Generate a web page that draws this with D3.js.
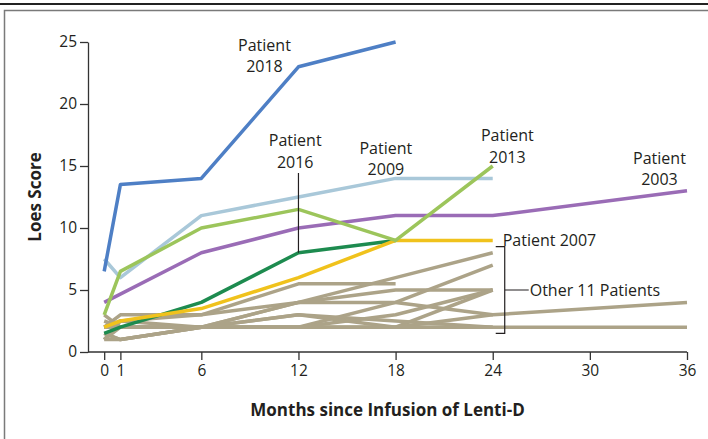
<!DOCTYPE html>
<html>
<head>
<meta charset="utf-8">
<script src="https://cdnjs.cloudflare.com/ajax/libs/d3/7.8.5/d3.min.js"></script>
<style>
    body { margin: 0; background: #fff; }
    #chart text { font-family: "Open Sans", sans-serif; fill: #231f20; }
</style>
</head>
<body>
<div id="chart"></div>
<script>
// months on the x axis and the score ticks
var xTicks = [0, 1, 6, 12, 18, 24, 30, 36];
var yTicks = [0, 5, 10, 15, 20, 25];

// highlighted patients: [month, loes score]
var p2018 = [[0, 6.5], [1, 13.5], [6, 14], [12, 23], [18, 25]];
var p2009 = [[0, 7.5], [1, 6], [6, 11], [12, 12.5], [18, 14], [24, 14]];
var p2013 = [[0, 3], [1, 6.5], [6, 10], [12, 11.5], [18, 9], [24, 15]];
var p2003 = [[0, 4], [6, 8], [12, 10], [18, 11], [24, 11], [36, 13]];
var p2016 = [[0, 1.5], [1, 2], [6, 4], [12, 8], [18, 9]];
var p2007 = [[0, 2], [1, 2.5], [6, 3.5], [12, 6], [18, 9], [24, 9]];

// the other 11 patients
var others = [
    [[0, 2], [1, 2], [6, 2], [12, 4], [18, 6], [24, 8]],
    [[0, 1.5], [1, 1], [6, 2], [12, 2], [18, 4], [24, 7]],
    [[0, 2], [1, 3], [6, 3], [12, 5.5], [18, 5.5]],
    [[0, 1], [1, 2.5], [6, 3], [12, 4], [18, 5], [24, 5]],
    [[0, 2], [1, 2], [6, 2], [12, 2], [18, 2], [24, 5]],
    [[0, 3], [1, 2], [6, 2], [12, 3], [18, 2.5], [24, 2], [36, 2]],
    [[0, 1.5], [1, 1], [6, 2], [12, 4], [18, 4], [24, 3], [36, 4]],
    [[0, 1], [1, 1], [6, 2], [12, 2], [18, 2], [24, 2]],
    [[0, 2.5], [1, 2], [6, 2], [12, 3], [18, 2], [24, 3]],
    [[0, 2], [1, 2.5], [6, 2], [12, 2], [18, 3], [24, 5]],
    [[0, 1], [1, 2], [6, 2], [12, 2], [18, 2], [24, 2]]
];

var highlighted = [
    { data: p2016, color: "#1d8b4f" },
    { data: p2007, color: "#f0c21c" },
    { data: p2003, color: "#9a6cb6" },
    { data: p2009, color: "#a9c8d9" },
    { data: p2013, color: "#9cc55b" },
    { data: p2018, color: "#4e7fc5" }
];

// label text, anchor month/score
var labels = [
    { lines: ["Patient", "2018"], m: 9.9, s: 24.3 },
    { lines: ["Patient", "2016"], m: 11.8, s: 16.6 },
    { lines: ["Patient", "2009"], m: 17.4, s: 16.0 },
    { lines: ["Patient", "2013"], m: 24.9, s: 17.0 },
    { lines: ["Patient", "2003"], m: 34.3, s: 15.2 }
];

var width = 708, height = 439;
var svg = d3.select("#chart").append("svg")
    .attr("width", width)
    .attr("height", height);

// frame around the figure
svg.append("line").attr("x1", 0).attr("x2", width).attr("y1", 4).attr("y2", 4)
    .style("stroke", "#222").style("stroke-width", 2);
svg.append("rect").attr("x", 4.5).attr("y", 10.5).attr("width", 720).attr("height", 450)
    .style("fill", "none").style("stroke", "#7a7a7a").style("stroke-width", 1.5);

var x = d3.scaleLinear().domain([-1, 36]).range([88, 687]);
var y = d3.scaleLinear().domain([0, 25]).range([352, 42]);

var line = d3.line()
    .x(function (d) { return x(d[0]); })
    .y(function (d) { return y(d[1]); });

// axes
var xAxis = svg.append("g")
    .attr("transform", "translate(0," + y(0) + ")")
    .call(d3.axisBottom(x).tickValues(xTicks).tickSize(8).tickSizeOuter(0).tickPadding(5));
var yAxis = svg.append("g")
    .attr("transform", "translate(" + x(-1) + ",0)")
    .call(d3.axisLeft(y).tickValues(yTicks).tickSize(8).tickSizeOuter(0).tickPadding(3));

[xAxis, yAxis].forEach(function (ax) {
    ax.select(".domain").style("stroke", "#333").style("stroke-width", 1.3);
    ax.selectAll(".tick line").style("stroke", "#333").style("stroke-width", 1.3);
    ax.selectAll(".tick text").style("font-size", "15.5px")
        .style("font-family", "'Open Sans', sans-serif").style("fill", "#231f20");
});
// x axis line runs to the right end tick
xAxis.select(".domain").attr("d", "M" + x(-1) + ",0H" + x(36));

// gray lines first, coloured ones on top
svg.selectAll(".other").data(others).enter().append("path")
    .attr("class", "other")
    .attr("d", line)
    .style("fill", "none").style("stroke", "#aca388").style("stroke-width", 3.5)
    .style("stroke-linejoin", "round");

svg.selectAll(".patient").data(highlighted).enter().append("path")
    .attr("class", "patient")
    .attr("d", function (d) { return line(d.data); })
    .style("fill", "none").style("stroke", function (d) { return d.color; })
    .style("stroke-width", 3.5).style("stroke-linejoin", "round");

// two-line patient labels
labels.forEach(function (l) {
    var t = svg.append("text")
        .attr("x", x(l.m)).attr("y", y(l.s))
        .style("text-anchor", "middle").style("font-size", "16px");
    l.lines.forEach(function (s, i) {
        t.append("tspan").attr("x", x(l.m)).attr("dy", i == 0 ? 0 : 21.5).text(s);
    });
});

// leader for patient 2016
svg.append("line").attr("x1", x(12)).attr("x2", x(12)).attr("y1", 173).attr("y2", y(8))
    .style("stroke", "#231f20").style("stroke-width", 1.2);

svg.append("text").attr("x", x(24) + 10).attr("y", y(9) + 6)
    .style("font-size", "16px").text("Patient 2007");

// bracket for the other 11 patients
var bx = x(24) + 12;
svg.append("path")
    .attr("d", "M" + (bx - 9) + "," + y(8.5) + "H" + bx + "V" + y(1.5) + "H" + (bx - 9)
        + "M" + bx + "," + y(5) + "H" + (bx + 24))
    .style("fill", "none").style("stroke", "#231f20").style("stroke-width", 1.2);
svg.append("text").attr("x", bx + 25).attr("y", y(5) + 6)
    .style("font-size", "16px").text("Other 11 Patients");

// axis titles
svg.append("text")
    .attr("transform", "translate(41," + y(12.5) + ") rotate(-90)")
    .style("text-anchor", "middle").style("font-size", "17px").style("font-weight", "bold")
    .text("Loes Score");
svg.append("text")
    .attr("x", x(17.5)).attr("y", 416)
    .style("text-anchor", "middle").style("font-size", "17px").style("font-weight", "bold")
    .text("Months since Infusion of Lenti-D");
</script>
</body>
</html>
